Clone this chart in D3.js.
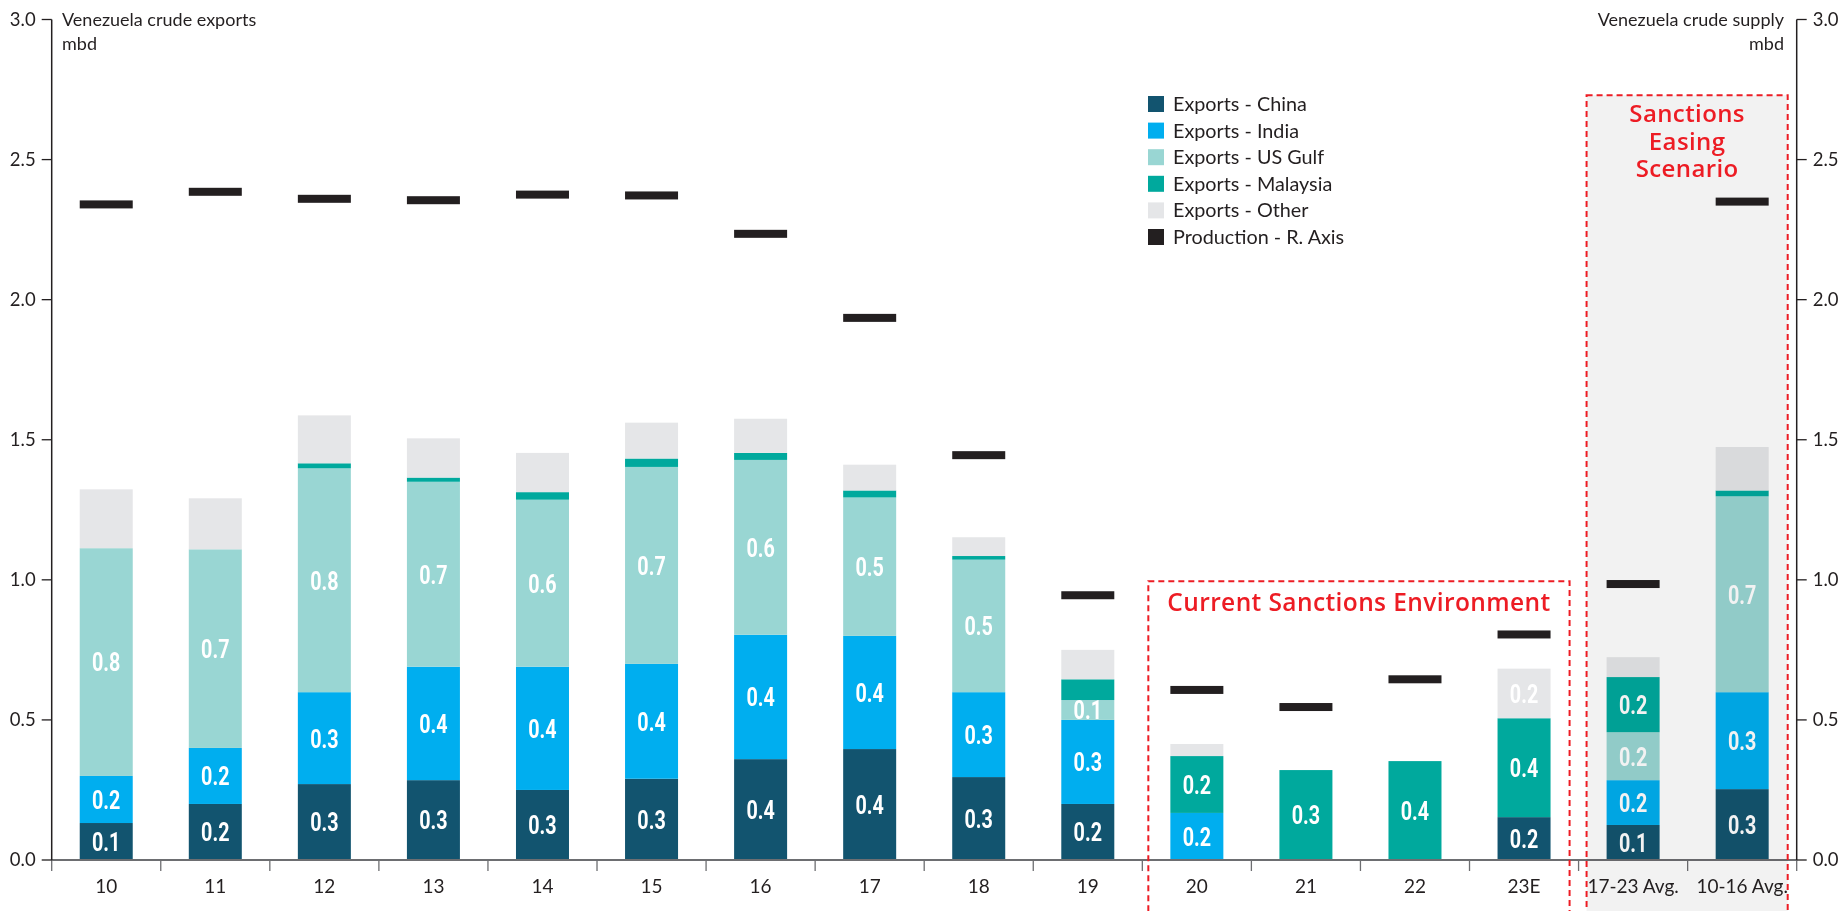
<!DOCTYPE html>
<html>
<head>
<meta charset="utf-8">
<script src="https://cdn.jsdelivr.net/npm/d3@7/dist/d3.min.js"></script>
<style>
  html, body { margin: 0; padding: 0; background: #ffffff; }
  svg { display: block; }
</style>
</head>
<body>
<svg id="chart" width="1842" height="911"></svg>
<script>
// Venezuela crude exports by destination (mbd) with production on the right axis
const categories = ["10", "11", "12", "13", "14", "15", "16", "17", "18", "19", "20", "21", "22", "23E", "17-23 Avg.", "10-16 Avg."];

const exportsChina    = [0.132, 0.200, 0.271, 0.285, 0.250, 0.290, 0.360, 0.396, 0.296, 0.200, 0, 0, 0, 0.153, 0.125, 0.253];
const exportsIndia    = [0.168, 0.200, 0.328, 0.405, 0.440, 0.410, 0.444, 0.404, 0.303, 0.300, 0.168, 0, 0, 0, 0.160, 0.346];
const exportsUSGulf   = [0.813, 0.709, 0.799, 0.660, 0.596, 0.703, 0.624, 0.494, 0.473, 0.071, 0, 0, 0, 0, 0.171, 0.699];
const exportsMalaysia = [0, 0, 0.018, 0.015, 0.027, 0.030, 0.025, 0.025, 0.013, 0.074, 0.203, 0.321, 0.353, 0.353, 0.197, 0.021];
const exportsOther    = [0.210, 0.182, 0.171, 0.140, 0.140, 0.128, 0.122, 0.092, 0.067, 0.105, 0.043, 0, 0, 0.177, 0.071, 0.155];
const production      = [2.340, 2.385, 2.360, 2.355, 2.375, 2.372, 2.235, 1.935, 1.445, 0.945, 0.607, 0.546, 0.645, 0.805, 0.985, 2.350];

const seriesNames  = ["Exports - China", "Exports - India", "Exports - US Gulf", "Exports - Malaysia", "Exports - Other"];
const seriesColors = ["#12546f", "#00aeef", "#99d6d3", "#00a99d", "#e5e6e8"];
const productionName  = "Production - R. Axis";
const productionColor = "#231f20";

// Which segments carry a value label
const labelledChina    = ["10", "11", "12", "13", "14", "15", "16", "17", "18", "19", "23E", "17-23 Avg.", "10-16 Avg."];
const labelledIndia    = ["10", "11", "12", "13", "14", "15", "16", "17", "18", "19", "20", "17-23 Avg.", "10-16 Avg."];
const labelledUSGulf   = ["10", "11", "12", "13", "14", "15", "16", "17", "18", "19", "17-23 Avg.", "10-16 Avg."];
const labelledMalaysia = ["20", "21", "22", "23E", "17-23 Avg."];
const labelledOther    = ["23E"];

const yTicks = [0, 0.5, 1.0, 1.5, 2.0, 2.5, 3.0];

const leftTitle  = ["Venezuela crude exports", "mbd"];
const rightTitle = ["Venezuela crude supply", "mbd"];
const currentBoxTitle = ["Current Sanctions Environment"];
const easingBoxTitle  = ["Sanctions", "Easing", "Scenario"];

// ---- build table ----
const seriesValues = [exportsChina, exportsIndia, exportsUSGulf, exportsMalaysia, exportsOther];
const seriesLabelled = [labelledChina, labelledIndia, labelledUSGulf, labelledMalaysia, labelledOther];
const rows = categories.map((c, i) => {
  const r = { cat: c };
  seriesNames.forEach((s, k) => r[s] = seriesValues[k][i]);
  return r;
});
const stacked = d3.stack().keys(seriesNames)(rows);

// ---- scales ----
const svg = d3.select("#chart");
const axisLeftX = 51.7, axisRightX = 1796.7;
const x = d3.scaleBand().domain(categories).range([axisLeftX, axisRightX]).paddingInner(0.514).paddingOuter(0.257);
const y = d3.scaleLinear().domain([0, 3]).range([860, 19.5]);
const step = x.step();
const boundary = i => axisLeftX + i * step;

const FONT = "Lato, 'Open Sans', sans-serif";
const TITLE_FONT = "'Open Sans', sans-serif";
const RED = "#ed1c24";

// ---- bars ----
const barG = svg.append("g");
stacked.forEach((layer, k) => {
  barG.selectAll(null)
    .data(layer.map((d, i) => ({ d, i })).filter(o => o.d[1] - o.d[0] > 0))
    .enter().append("rect")
    .attr("x", o => x(categories[o.i]))
    .attr("width", x.bandwidth())
    .attr("y", o => y(o.d[1]))
    .attr("height", o => y(o.d[0]) - y(o.d[1]))
    .attr("fill", seriesColors[k]);
});

// ---- value labels ----
const fmt = d3.format(".1f");
const labelG = svg.append("g");
stacked.forEach((layer, k) => {
  layer.forEach((d, i) => {
    const v = d[1] - d[0];
    if (v <= 0 || !seriesLabelled[k].includes(categories[i])) return;
    const cx = x(categories[i]) + x.bandwidth() / 2;
    const cy = (y(d[0]) + y(d[1])) / 2;
    labelG.append("g")
      .attr("transform", `translate(${cx},${cy}) scale(0.76,1)`)
      .append("text")
      .attr("text-anchor", "middle")
      .attr("dy", "0.36em")
      .attr("fill", "#ffffff")
      .attr("font-family", "Roboto, sans-serif")
      .attr("font-weight", 700)
      .attr("font-size", 26)
      .text(fmt(v));
  });
});

// ---- production markers ----
svg.append("g").selectAll("rect")
  .data(production)
  .enter().append("rect")
  .attr("x", (d, i) => x(categories[i]))
  .attr("width", x.bandwidth())
  .attr("y", d => y(d) - 4)
  .attr("height", 8)
  .attr("fill", productionColor);

// ---- x axis ----
const xAxisG = svg.append("g");
xAxisG.append("line")
  .attr("x1", axisLeftX).attr("x2", axisRightX)
  .attr("y1", y(0)).attr("y2", y(0))
  .attr("stroke", "#6d6e71").attr("stroke-width", 2);
xAxisG.selectAll("line.tick")
  .data(d3.range(categories.length + 1))
  .enter().append("line")
  .attr("class", "tick")
  .attr("x1", i => boundary(i)).attr("x2", i => boundary(i))
  .attr("y1", y(0)).attr("y2", y(0) + 11)
  .attr("stroke", "#6d6e71").attr("stroke-width", 1.3);
xAxisG.selectAll("text")
  .data(categories)
  .enter().append("text")
  .attr("x", c => x(c) + x.bandwidth() / 2)
  .attr("y", 893)
  .attr("text-anchor", "middle")
  .attr("font-family", FONT)
  .attr("font-size", 19)
  .attr("fill", "#231f20")
  .text(c => c);

// ---- y axes ----
function yAxis(xPos, dir) {
  const g = svg.append("g");
  g.append("line")
    .attr("x1", xPos).attr("x2", xPos)
    .attr("y1", y(3)).attr("y2", y(0))
    .attr("stroke", "#231f20").attr("stroke-width", 1.5);
  g.selectAll("line.tick").data(yTicks).enter().append("line")
    .attr("x1", xPos).attr("x2", xPos + dir * 10)
    .attr("y1", d => y(d)).attr("y2", d => y(d))
    .attr("stroke", "#231f20").attr("stroke-width", 1.3);
  g.selectAll("text").data(yTicks).enter().append("text")
    .attr("x", xPos + dir * 16)
    .attr("y", d => y(d))
    .attr("dy", "0.35em")
    .attr("text-anchor", dir < 0 ? "end" : "start")
    .attr("font-family", FONT)
    .attr("font-size", 18.5)
    .attr("fill", "#231f20")
    .text(d => d3.format(".1f")(d));
}
yAxis(axisLeftX, -1);
yAxis(axisRightX, 1);

// axis titles
svg.append("g").selectAll("text").data(leftTitle).enter().append("text")
  .attr("x", 62).attr("y", (d, i) => 26 + i * 24)
  .attr("font-family", FONT).attr("font-size", 18).attr("fill", "#231f20")
  .text(d => d);
svg.append("g").selectAll("text").data(rightTitle).enter().append("text")
  .attr("x", 1784).attr("y", (d, i) => 26 + i * 24)
  .attr("text-anchor", "end")
  .attr("font-family", FONT).attr("font-size", 18).attr("fill", "#231f20")
  .text(d => d);

// ---- legend ----
const legendItems = seriesNames.map((s, k) => ({ name: s, color: seriesColors[k] }))
  .concat([{ name: productionName, color: productionColor }]);
const legend = svg.append("g").attr("transform", "translate(1148,104)");
const li = legend.selectAll("g").data(legendItems).enter().append("g")
  .attr("transform", (d, i) => `translate(0,${i * 26.6})`);
li.append("rect").attr("x", 0).attr("y", -8).attr("width", 16).attr("height", 16).attr("fill", d => d.color);
li.append("text").attr("x", 25).attr("dy", "0.35em")
  .attr("font-family", FONT).attr("font-size", 19.8).attr("fill", "#231f20")
  .text(d => d.name);

// ---- scenario boxes ----
// shaded easing scenario area (multiplied over the bars)
const box2x1 = boundary(14) + 8, box2x2 = boundary(16) - 9, box2top = y(2.73);
svg.append("rect")
  .attr("x", box2x1).attr("y", box2top)
  .attr("width", box2x2 - box2x1).attr("height", 920 - box2top)
  .attr("fill", "#f2f2f2")
  .style("mix-blend-mode", "multiply");
svg.append("rect")
  .attr("x", box2x1).attr("y", box2top)
  .attr("width", box2x2 - box2x1).attr("height", 920 - box2top)
  .attr("fill", "none").attr("stroke", RED).attr("stroke-width", 2)
  .attr("stroke-dasharray", "6,4");

const box1x1 = boundary(10) + 6, box1x2 = boundary(14) - 9, box1top = y(0.995);
svg.append("rect")
  .attr("x", box1x1).attr("y", box1top)
  .attr("width", box1x2 - box1x1).attr("height", 920 - box1top)
  .attr("fill", "none").attr("stroke", RED).attr("stroke-width", 2)
  .attr("stroke-dasharray", "6,4");

svg.append("g").selectAll("text").data(currentBoxTitle).enter().append("text")
  .attr("x", (box1x1 + box1x2) / 2).attr("y", 611)
  .attr("text-anchor", "middle")
  .attr("font-family", TITLE_FONT).attr("font-weight", 600).attr("font-size", 24.5)
  .attr("letter-spacing", 0.4).attr("fill", RED)
  .text(d => d);
svg.append("g").selectAll("text").data(easingBoxTitle).enter().append("text")
  .attr("x", (box2x1 + box2x2) / 2).attr("y", (d, i) => 122 + i * 27.5)
  .attr("text-anchor", "middle")
  .attr("font-family", TITLE_FONT).attr("font-weight", 600).attr("font-size", 24)
  .attr("letter-spacing", 0.4).attr("fill", RED)
  .text(d => d);
</script>
</body>
</html>
